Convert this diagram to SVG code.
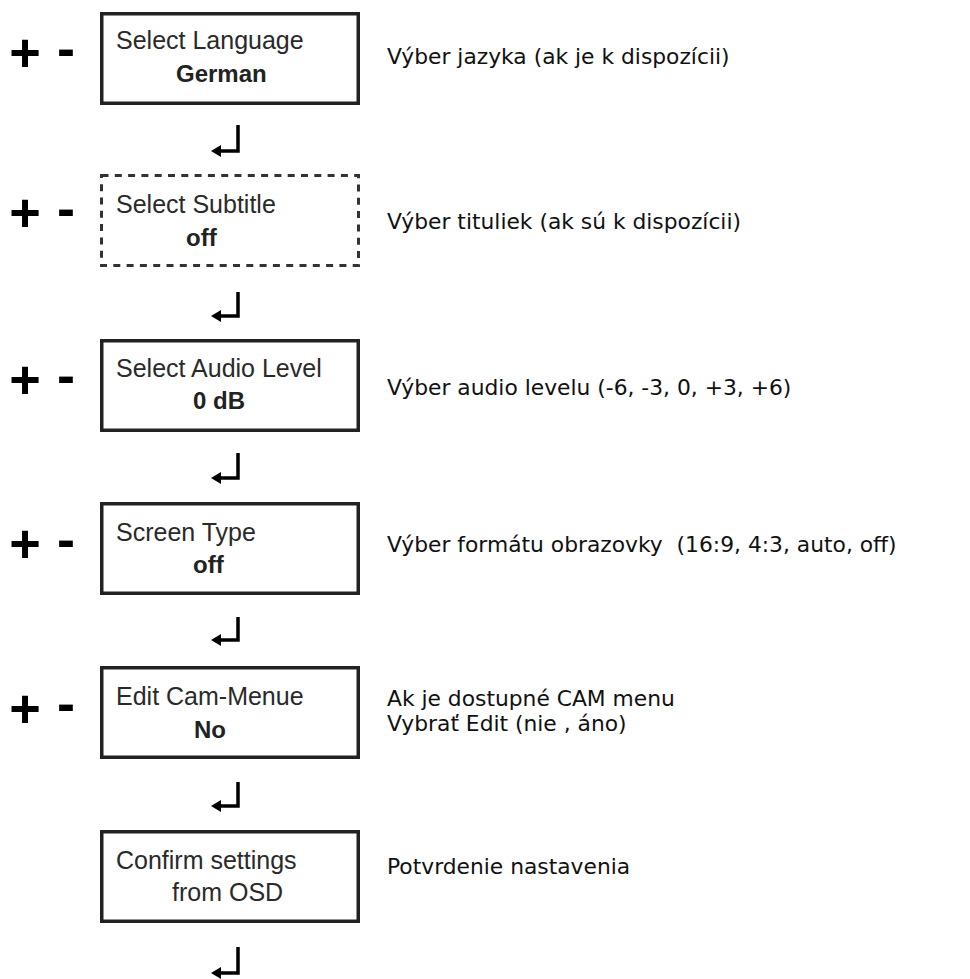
<svg xmlns="http://www.w3.org/2000/svg" width="970" height="979" viewBox="0 0 970 979">
<style>
.box{fill:#fff;stroke:#222;stroke-width:3.5}
.dash{fill:#fff;stroke:#333;stroke-width:3;stroke-dasharray:7 6.3}
.lbl{font-family:"Liberation Sans",Arial,sans-serif;font-size:25px;fill:#2a2a2a}
.val{font-family:"Liberation Sans",Arial,sans-serif;font-size:24px;font-weight:bold;fill:#222}
.pm{font-family:"Liberation Sans",Arial,sans-serif;font-size:54px;font-weight:bold;fill:#000;text-anchor:middle}
.desc{font-family:"DejaVu Sans",Verdana,sans-serif;font-size:21.8px;fill:#111}
.conn{fill:none;stroke:#000;stroke-width:3.5}
</style>
<defs>
<marker id="ah" viewBox="0 0 10 12" refX="0" refY="6" markerWidth="10" markerHeight="12" markerUnits="userSpaceOnUse" orient="auto">
<path d="M0,0 L10,6 L0,12 z" fill="#000"/>
</marker>
</defs>
<rect width="970" height="979" fill="#fff"/>

<g id="node-language">
<text class="pm" x="25" y="71">+</text><text class="pm" x="66" y="67">-</text>
<rect class="box" x="101.75" y="13.75" width="256.5" height="89.5"/>
<text class="lbl" x="116" y="49">Select Language</text>
<text class="val" x="176" y="82">German</text>
<text class="desc" x="387" y="64">Výber jazyka (ak je k dispozícii)</text>
</g>

<g id="node-subtitle">
<text class="pm" x="25" y="231">+</text><text class="pm" x="66" y="227">-</text>
<rect class="dash" x="101.5" y="175.5" width="257" height="90"/>
<text class="lbl" x="116" y="213">Select Subtitle</text>
<text class="val" x="186" y="246">off</text>
<text class="desc" x="387" y="229">Výber tituliek (ak sú k dispozícii)</text>
</g>

<g id="node-audio">
<text class="pm" x="25" y="398">+</text><text class="pm" x="66" y="394">-</text>
<rect class="box" x="101.75" y="340.75" width="256.5" height="89.5"/>
<text class="lbl" x="116" y="377">Select Audio Level</text>
<text class="val" x="193" y="409">0 dB</text>
<text class="desc" x="387" y="395">Výber audio levelu (-6, -3, 0, +3, +6)</text>
</g>

<g id="node-screen">
<text class="pm" x="25" y="562">+</text><text class="pm" x="66" y="558">-</text>
<rect class="box" x="101.75" y="503.75" width="256.5" height="89.5"/>
<text class="lbl" x="116" y="541">Screen Type</text>
<text class="val" x="193" y="573">off</text>
<text class="desc" x="387" y="552" xml:space="preserve">Výber formátu obrazovky  (16:9, 4:3, auto, off)</text>
</g>

<g id="node-cam">
<text class="pm" x="25" y="727">+</text><text class="pm" x="66" y="722">-</text>
<rect class="box" x="101.75" y="667.75" width="256.5" height="89.5"/>
<text class="lbl" x="116" y="705">Edit Cam-Menue</text>
<text class="val" x="194" y="738">No</text>
<text class="desc" x="387" y="706">Ak je dostupné CAM menu</text>
<text class="desc" x="387" y="731">Vybrať Edit (nie , áno)</text>
</g>

<g id="node-confirm">
<rect class="box" x="101.75" y="831.75" width="256.5" height="89.5"/>
<text class="lbl" x="116" y="869">Confirm settings</text>
<text class="lbl" x="172" y="901">from OSD</text>
<text class="desc" x="387" y="874">Potvrdenie nastavenia</text>
</g>

<g id="connectors">
<path class="conn" d="M238,125 V151 H221" marker-end="url(#ah)"/>
<path class="conn" d="M238,292 V316 H221" marker-end="url(#ah)"/>
<path class="conn" d="M238,453 V478 H221" marker-end="url(#ah)"/>
<path class="conn" d="M238,617 V640 H221" marker-end="url(#ah)"/>
<path class="conn" d="M238,782 V806 H221" marker-end="url(#ah)"/>
<path class="conn" d="M238,947 V973 H221" marker-end="url(#ah)"/>
</g>
</svg>
